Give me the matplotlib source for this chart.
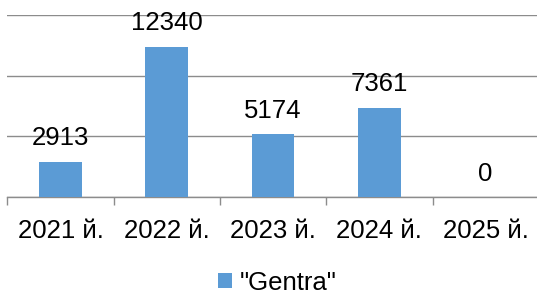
import matplotlib.pyplot as plt
import matplotlib.ticker as ticker
import numpy as np
from matplotlib.patches import Patch

years = ["2021 й.", "2022 й.", "2023 й.", "2024 й.", "2025 й."]
gentra = [2913, 12340, 5174, 7361, 0]
series_name = '"Gentra"'

BAR_COLOR = "#5B9BD5"
GRID_COLOR = "#8c8c8c"

plt.rcParams["font.family"] = ["Liberation Sans", "DejaVu Sans"]

W, H = 537, 295
fig = plt.figure(figsize=(W / 100, H / 100), dpi=100)
# plot area runs slightly past the right edge, as in the reference
ax = fig.add_axes([7.3 / W, (H - 197.3) / H, 531.5 / W, 182.6 / H])

x = np.arange(len(years))
ax.bar(x, gentra, width=0.4, color=BAR_COLOR, zorder=3)

for xi, v in zip(x, gentra):
    ax.annotate(str(v), (xi, v), xytext=(0, 12), textcoords="offset points",
                ha="center", va="baseline", fontsize=18.5, color="black")

ax.set_xlim(-0.5, len(years) - 0.5)
ax.set_ylim(0, 15000)
ax.yaxis.set_major_locator(ticker.MultipleLocator(5000))
ax.grid(axis="y", color=GRID_COLOR, linewidth=1.0, zorder=0)
ax.set_yticklabels([])
ax.tick_params(axis="y", length=0)

ax.set_xticks(x)
ax.set_xticklabels(years, fontsize=18.5)
ax.set_xticks(np.arange(-0.5, len(years)), minor=True)
ax.tick_params(axis="x", which="major", length=0, pad=15.5)
ax.tick_params(axis="x", which="minor", length=5.7, width=1.0, color=GRID_COLOR)

for side in ["left", "right", "top"]:
    ax.spines[side].set_visible(False)
ax.spines["bottom"].set_color(GRID_COLOR)
ax.spines["bottom"].set_linewidth(1.0)

fig.legend(handles=[Patch(facecolor=BAR_COLOR, label=series_name)],
           loc="center", bbox_to_anchor=(277 / W, 1 - 282.5 / H), frameon=False,
           fontsize=18.5, handlelength=0.55, handleheight=0.55, handletextpad=0.3,
           borderpad=0, borderaxespad=0)

fig.savefig("out.png", dpi=100, facecolor="white")
